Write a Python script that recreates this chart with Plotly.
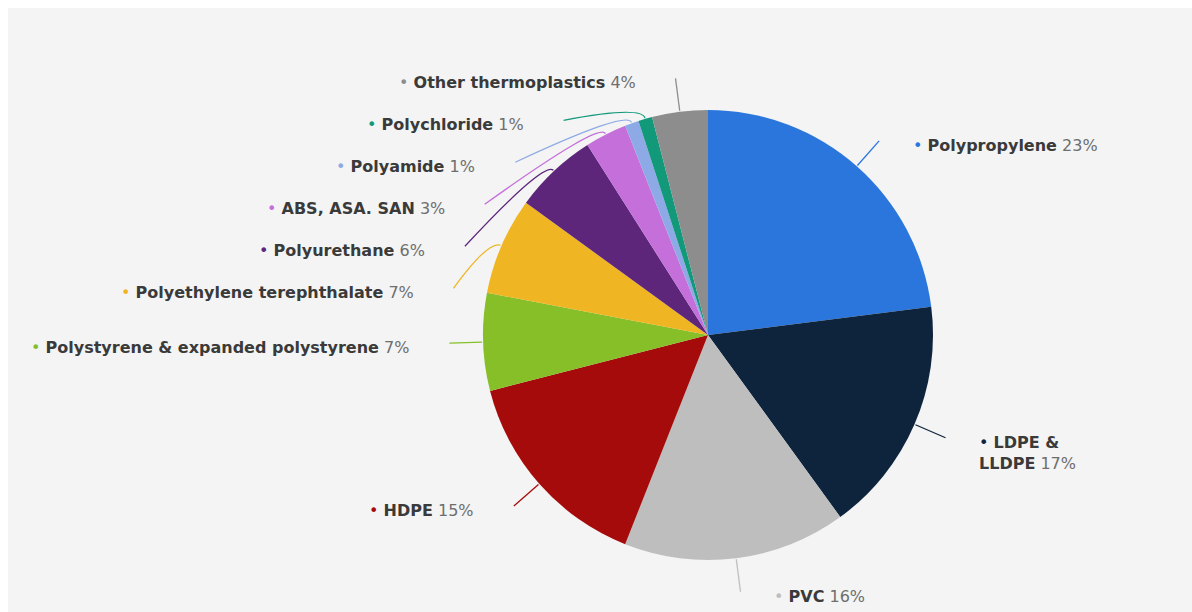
import math
import plotly.graph_objects as go

# share of European plastics demand by polymer type (%), clockwise from 12 o'clock
labels = ["Polypropylene", "LDPE &<br>LLDPE", "PVC", "HDPE",
          "Polystyrene & expanded polystyrene", "Polyethylene terephthalate",
          "Polyurethane", "ABS, ASA. SAN", "Polyamide", "Polychloride",
          "Other thermoplastics"]
values = [23, 17, 16, 15, 7, 7, 6, 3, 1, 1, 4]
colors = ["#2a76dc", "#0e233c", "#bebebe", "#a50b0b", "#86bf27", "#efb523",
          "#5d267b", "#c56fda", "#8eaae6", "#11997a", "#8d8d8d"]

W, H = 1192, 612
OFF = 8                        # page body margin
CX, CY, R = 708, 335, 225      # pie centre / radius in page pixels
R_LBL = R * 1.15               # where connectors end
GAP = 42                       # min vertical spacing of labels
FONT = "DejaVu Sans, Arial, sans-serif"
BG = "#f4f4f4"


def fx(x):
    return (x - OFF) / W


def fy(y):
    return 1 - (y - OFF) / H


fig = go.Figure(go.Pie(
    labels=[l.replace("<br>", " ") for l in labels], values=values,
    marker=dict(colors=colors, line=dict(width=0)),
    sort=False, direction="clockwise", rotation=0,
    textinfo="none", hoverinfo="label+percent", showlegend=False,
    domain=dict(x=[fx(CX - R), fx(CX + R)], y=[fy(CY + R), fy(CY - R)]),
))

# mid angles of slices, then place labels like highcharts does
total = sum(values)
cum = 0
info = []
for lab, v, c in zip(labels, values, colors):
    a = math.radians((cum + v / 2) / total * 360)
    cum += v
    s, co = math.sin(a), math.cos(a)
    info.append(dict(lab=lab, v=v, c=c, s=s, co=co,
                     left=s < 0, y=CY - R_LBL * co))

for side in (True, False):
    grp = sorted([d for d in info if d["left"] == side], key=lambda d: d["y"])
    prev = None
    for d in grp:
        if prev is not None and d["y"] < prev + GAP:
            d["y"] = prev + GAP
        prev = d["y"]

shapes = []
annotations = []
for d in info:
    ey = d["y"]
    dy = ey - CY
    dx = math.sqrt(max(R_LBL ** 2 - dy ** 2, 0))
    ex = CX - dx if d["left"] else CX + dx
    x0, y0 = CX + (R + 1) * d["s"], CY - (R + 1) * d["co"]
    x1, y1 = CX + (R + 14) * d["s"], CY - (R + 14) * d["co"]
    path = "M {:.4f},{:.4f} Q {:.4f},{:.4f} {:.4f},{:.4f}".format(
        fx(x0), fy(y0), fx(x1), fy(y1), fx(ex), fy(ey))
    shapes.append(dict(type="path", path=path, xref="paper", yref="paper",
                       line=dict(color=d["c"], width=1.3)))
    txt = ("<span style='color:{}'>•</span> <b>{}</b> "
           "<span style='color:#6e6e6e'>{}%</span>").format(d["c"], d["lab"], d["v"])
    annotations.append(dict(
        x=fx(ex - 38 if d["left"] else ex + 32), y=fy(ey - 7),
        xref="paper", yref="paper", text=txt, showarrow=False,
        xanchor="right" if d["left"] else "left", yanchor="top",
        align="left", font=dict(family=FONT, size=16, color="#3a3a3a"),
    ))

fig.update_layout(
    width=W, height=H, margin=dict(l=0, r=0, t=0, b=0),
    paper_bgcolor=BG, plot_bgcolor=BG,
    shapes=shapes, annotations=annotations,
)
# grey page behind the figure (white only on the top/left body margin), no scrollbars
post = (
    "var de=document.documentElement;de.style.overflow='hidden';"
    "document.body.style.overflow='hidden';"
    "de.style.background='linear-gradient(to right, white 8px, transparent 8px),"
    " linear-gradient(to bottom, white 8px, " + BG + " 8px)';"
)
fig.write_html("out.html", post_script=post)
